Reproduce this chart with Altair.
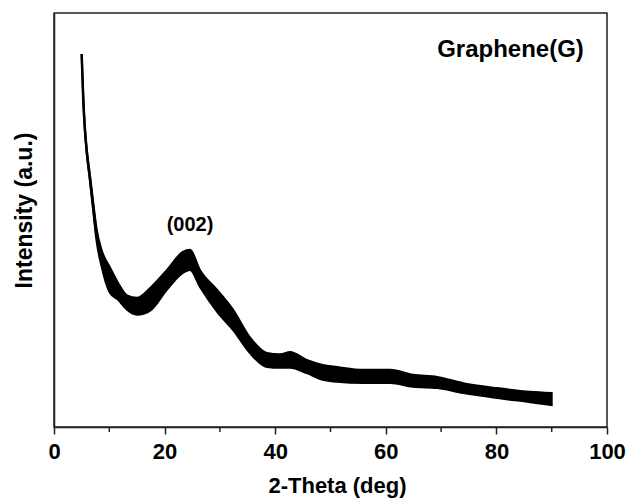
import altair as alt
import pandas as pd

# ---- data (intensity in arbitrary units, 0-100 frame) ----
two_theta = [5.0, 5.3, 5.6, 5.9, 6.5, 7.1, 7.7, 8.6, 10.1, 11.6, 13.2, 15.0, 17.4,
             20.4, 23.3, 24.6, 26.4, 29.5, 32.4, 35.4, 38.5, 40.9, 42.7, 45.7, 48.6,
             51.2, 55.9, 60.8, 64.9, 69.3, 74.0, 80.1, 86.1, 90.0]
center = [90.1, 79.0, 71.7, 66.9, 60.1, 53.1, 46.4, 40.8, 35.5, 32.8, 30.0, 29.2, 30.9,
          35.5, 39.8, 40.3, 35.9, 30.5, 25.8, 19.8, 16.2, 15.9, 16.2, 14.6, 13.3,
          12.7, 12.2, 12.2, 11.1, 10.8, 9.4, 8.2, 7.2, 6.8]
upper = [90.1, 79.3, 72.1, 67.4, 60.8, 54.2, 47.9, 42.8, 38.6, 34.8, 31.8, 31.2, 33.6,
         37.9, 42.3, 42.8, 37.9, 33.1, 28.3, 21.7, 17.9, 17.6, 18.1, 16.2, 15.0,
         14.5, 13.8, 13.8, 12.6, 12.1, 10.6, 9.4, 8.5, 8.2]
lower = [90.1, 78.7, 71.3, 66.4, 59.4, 52.0, 44.9, 38.8, 32.4, 30.7, 28.3, 27.1, 28.1,
         33.1, 37.2, 37.9, 33.8, 27.8, 23.4, 17.9, 14.5, 14.3, 14.3, 13.0, 11.4,
         10.9, 10.6, 10.6, 9.7, 9.4, 8.2, 7.0, 6.0, 5.3]

x_ticks = [0, 20, 40, 60, 80, 100]
minor_ticks = [10, 30, 50, 70, 90]

label_text = ["Graphene(G)", "(002)"]
label_x = [82.55, 24.6]
label_y = [89.4, 47.3]
label_size = [24, 20]

FONT = "Liberation Sans"
INK = "#222222"

df = pd.DataFrame({"two_theta": two_theta, "center": center, "upper": upper, "lower": lower})
df_minor = pd.DataFrame({"two_theta": minor_ticks})
df_lab = pd.DataFrame({"two_theta": label_x, "center": label_y, "text": label_text,
                       "size": label_size})

x_scale = alt.Scale(domain=[0, 100], nice=False, zero=False)
y_scale = alt.Scale(domain=[0, 100], nice=False, zero=False)

x_axis = alt.Axis(
    values=x_ticks, format="d", title="2-Theta (deg)", grid=False,
    tickSize=7, tickWidth=1.5, tickColor=INK,
    domainColor=INK, domainWidth=1.5,
    labelFont=FONT, labelFontSize=22, labelFontWeight="bold", labelColor="black",
    labelPadding=7, labelFlush=False, labelOverlap=False,
    titleFont=FONT, titleFontSize=22, titleFontWeight="bold", titleColor="black",
    titleX=283, titleY=65.5, titleBaseline="alphabetic", titleAlign="center",
)
y_axis = alt.Axis(
    title="Intensity (a.u.)", labels=False, ticks=False, grid=False,
    domainColor=INK, domainWidth=1.5,
    titleFont=FONT, titleFontSize=23, titleFontWeight="bold", titleColor="black",
    titleAngle=270, titleX=-23, titleY=197, titleBaseline="alphabetic", titleAlign="center",
)

X = alt.X("two_theta:Q", scale=x_scale, axis=x_axis, title="2-Theta (deg)")

band = alt.Chart(df).mark_area(
    color="black", stroke="black", strokeWidth=2, interpolate="monotone"
).encode(
    x=X,
    y=alt.Y("lower:Q", scale=y_scale, axis=y_axis, title="Intensity (a.u.)"),
    y2="upper:Q",
)

line = alt.Chart(df).mark_line(color="black", strokeWidth=2.5, interpolate="monotone").encode(
    x=X,
    y=alt.Y("center:Q", scale=y_scale, axis=y_axis, title="Intensity (a.u.)"),
)

minor = alt.Chart(df_minor).mark_rule(color=INK, strokeWidth=1.5).encode(
    x=X,
    y=alt.value(414),
    y2=alt.value(419),
)

labels = alt.Chart(df_lab).mark_text(
    font=FONT, fontWeight="bold", color="black", align="center", baseline="alphabetic"
).encode(
    x=X,
    y=alt.Y("center:Q", scale=y_scale, axis=y_axis, title="Intensity (a.u.)"),
    text="text:N",
    size=alt.Size("size:Q", scale=None, legend=None),
)

chart = alt.layer(band, line, minor, labels).properties(
    width=553, height=414,
    autosize=alt.AutoSizeParams(type="none"),
    padding={"left": 54, "top": 13, "right": 23, "bottom": 74},
    background="white",
).configure_view(stroke=INK, strokeWidth=1.5)

chart.save("out.html", embed_options={"renderer": "svg", "actions": False})
